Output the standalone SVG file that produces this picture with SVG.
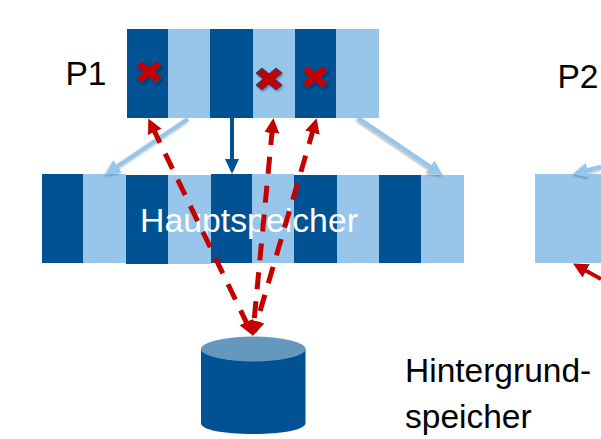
<svg xmlns="http://www.w3.org/2000/svg" width="601" height="439" viewBox="0 0 601 439">
<defs>
<style>
.d{fill:#005293}.l{fill:#98c6ea}
text{font-family:"Liberation Sans",Arial,sans-serif;font-size:33.500px;fill:#000}
.rd{fill:none;stroke:#c50000;stroke-width:5;stroke-dasharray:17 12;stroke-dashoffset:-6}
.lb{fill:none;stroke:#98c6ea;stroke-width:4.500}
.x{fill:#c50000;stroke:#005293;stroke-width:1}
</style>
<filter id="s" x="-30%" y="-30%" width="170%" height="170%"><feDropShadow dx="1" dy="1.500" stdDeviation="1" flood-color="#000" flood-opacity="0.35"/></filter>
<filter id="ls" x="-20%" y="-20%" width="140%" height="140%"><feDropShadow dx="-1" dy="1.500" stdDeviation="1.200" flood-color="#000" flood-opacity="0.3"/></filter>
<marker id="ar" markerUnits="userSpaceOnUse" markerWidth="16" markerHeight="18" refX="11" refY="9" orient="auto-start-reverse" viewBox="0 0 16 18"><path d="M0 1.500L15 9L0 16.500Z" fill="#c50000"/></marker>
<marker id="ab" markerUnits="userSpaceOnUse" markerWidth="16" markerHeight="18" refX="11" refY="9" orient="auto" viewBox="0 0 16 18"><path d="M0 1.500L15 9L0 16.500Z" fill="#98c6ea"/></marker>
<marker id="ad" markerUnits="userSpaceOnUse" markerWidth="16" markerHeight="18" refX="11" refY="9" orient="auto" viewBox="0 0 16 18"><path d="M0 2L15 9L0 16Z" fill="#005293"/></marker>
<path id="c" d="M-7 -11L0 -5L7 -11L13 -6L6 0L13 6L7 11L0 5L-7 11L-13 6L-6 0L-13 -6Z"/>
</defs>
<g id="p1"><rect class="d" x="127" y="29" width="41" height="89"/><rect class="l" x="168" y="29" width="42" height="89"/><rect class="d" x="210" y="29" width="43" height="89"/><rect class="l" x="253" y="29" width="42" height="89"/><rect class="d" x="295" y="29" width="41" height="89"/><rect class="l" x="336" y="29" width="43" height="89"/></g>
<g id="p1-label"><text x="65.500" y="85">P1</text></g>
<g id="p2-label"><text x="557.500" y="87.500">P2</text></g>
<g id="hauptspeicher"><rect class="d" x="42" y="174" width="41" height="89"/><rect class="l" x="83" y="174" width="43" height="89"/><rect class="d" x="126" y="175" width="42" height="89"/><rect class="l" x="168" y="175" width="43" height="89"/><rect class="d" x="211" y="174" width="41" height="89"/><rect class="l" x="252" y="174" width="42" height="89"/><rect class="d" x="294" y="175" width="43" height="88"/><rect class="l" x="337" y="175" width="42" height="88"/><rect class="d" x="379" y="175" width="42" height="88"/><rect class="l" x="421" y="175" width="43" height="88"/><text x="140" y="231.700" style="font-size:33.800px;fill:#fff">Hauptspeicher</text></g>
<g id="p2"><rect class="l" x="535" y="174" width="66" height="89"/></g>
<g id="speicher"><path class="d" d="M201 349V423C201 430 224 434 253 434S305.500 430 305.500 423V349Z"/><ellipse cx="253.250" cy="349" rx="52.250" ry="12.500" fill="#6598bf"/></g>
<g id="speicher-label"><text x="405" y="381.700">Hintergrund-</text><text x="405" y="427.700">speicher</text></g>
<g id="crosses" filter="url(#s)"><use href="#c" class="x" x="149" y="72"/><use href="#c" class="x" x="269" y="79"/><use href="#c" class="x" x="315" y="77"/></g>
<g id="connectors">
<g filter="url(#ls)">
<path class="lb" d="M188 119L108.500 172.500" marker-end="url(#ab)"/>
<path class="lb" d="M358 118L439.500 173" marker-end="url(#ab)"/>
<path class="lb" d="M601 167L577 173" marker-end="url(#ab)"/>
</g>
<path d="M232 118V170" fill="none" stroke="#005293" stroke-width="4" marker-end="url(#ad)"/>
<path class="rd" d="M150 122L251 332" marker-start="url(#ar)" marker-end="url(#ar)"/>
<path class="rd" d="M273 122L253 332" marker-start="url(#ar)" marker-end="url(#ar)"/>
<path class="rd" d="M315.500 122L254 332" marker-start="url(#ar)" marker-end="url(#ar)"/>
<path d="M601 279L576.500 265.500" fill="none" stroke="#c50000" stroke-width="4" marker-end="url(#ar)"/>
</g>
</svg>
